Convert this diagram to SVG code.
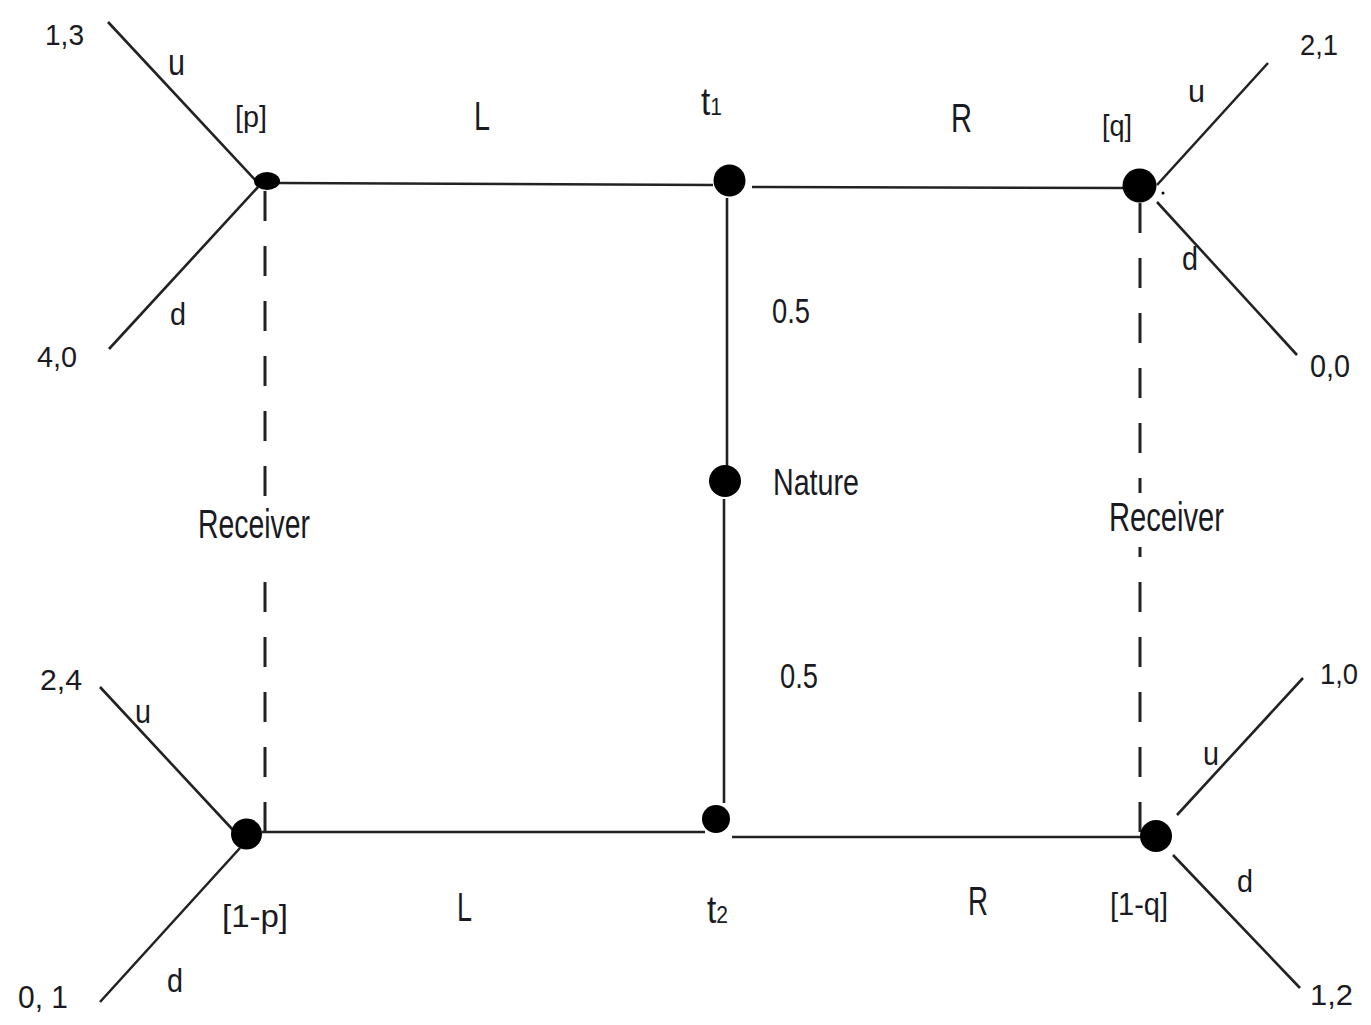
<svg xmlns="http://www.w3.org/2000/svg" width="1371" height="1025" viewBox="0 0 1371 1025">
  <style>
    .edge { stroke: #222; stroke-width: 2.6; fill: none; stroke-linecap: butt; }
    .info { stroke: #222; stroke-width: 3; fill: none; stroke-dasharray: 30 25; }
    .dot { fill: #000; }
    text { font-family: "Liberation Sans", Arial, sans-serif; fill: #1a1a22; }
  </style>

  <!-- game tree edges -->
  <g id="connectors">
    <!-- sender moves -->
    <line class="edge" x1="278" y1="183" x2="713" y2="185"/>
    <line class="edge" x1="752" y1="187" x2="1125" y2="188"/>
    <line class="edge" x1="262" y1="832" x2="705" y2="832"/>
    <line class="edge" x1="732" y1="837" x2="1142" y2="837"/>
    <!-- nature moves -->
    <line class="edge" x1="727" y1="198" x2="727" y2="467"/>
    <line class="edge" x1="724" y1="499" x2="724" y2="803"/>
    <!-- receiver moves -->
    <line class="edge" x1="108" y1="22" x2="258" y2="183"/>
    <line class="edge" x1="109" y1="349" x2="258" y2="187"/>
    <line class="edge" x1="1157" y1="185" x2="1268" y2="63"/>
    <line class="edge" x1="1157" y1="202" x2="1297" y2="355"/>
    <line class="edge" x1="100" y1="687" x2="233" y2="830"/>
    <line class="edge" x1="100" y1="1002" x2="240" y2="848"/>
    <line class="edge" x1="1177" y1="815" x2="1303" y2="678"/>
    <line class="edge" x1="1173" y1="855" x2="1300" y2="988"/>
    <circle class="dot" cx="1163" cy="193" r="1.5"/>
    <!-- information sets, broken around their labels -->
    <line class="info" x1="265" y1="191" x2="265" y2="496"/>
    <line class="info" x1="265" y1="832" x2="265" y2="558"/>
    <line class="info" x1="1140" y1="203" x2="1140" y2="493"/>
    <line class="info" x1="1140" y1="832" x2="1140" y2="547"/>

    <!-- action labels -->
    <text x="474" y="130" font-size="40" textLength="16" lengthAdjust="spacingAndGlyphs">L</text>
    <text x="951" y="132" font-size="40" textLength="21" lengthAdjust="spacingAndGlyphs">R</text>
    <text x="457" y="921" font-size="40" textLength="15" lengthAdjust="spacingAndGlyphs">L</text>
    <text x="968" y="915" font-size="40" textLength="20" lengthAdjust="spacingAndGlyphs">R</text>
    <text x="772" y="323" font-size="35" textLength="38" lengthAdjust="spacingAndGlyphs">0.5</text>
    <text x="780" y="688" font-size="35" textLength="38" lengthAdjust="spacingAndGlyphs">0.5</text>
    <text x="168" y="75" font-size="36" textLength="17" lengthAdjust="spacingAndGlyphs">u</text>
    <text x="170" y="325" font-size="32" textLength="16" lengthAdjust="spacingAndGlyphs">d</text>
    <text x="1188" y="102" font-size="32" textLength="17" lengthAdjust="spacingAndGlyphs">u</text>
    <text x="1182" y="270" font-size="34" textLength="16" lengthAdjust="spacingAndGlyphs">d</text>
    <text x="135" y="723" font-size="34" textLength="16" lengthAdjust="spacingAndGlyphs">u</text>
    <text x="167" y="992" font-size="34" textLength="16" lengthAdjust="spacingAndGlyphs">d</text>
    <text x="1203" y="765" font-size="33" textLength="16" lengthAdjust="spacingAndGlyphs">u</text>
    <text x="1237" y="892" font-size="32" textLength="16" lengthAdjust="spacingAndGlyphs">d</text>
  </g>

  <!-- nature -->
  <g id="nature">
    <circle class="dot" cx="725" cy="481" r="16"/>
    <text x="773" y="495" font-size="37" textLength="86" lengthAdjust="spacingAndGlyphs">Nature</text>
  </g>

  <!-- sender types -->
  <g id="sender-t1">
    <circle class="dot" cx="729.5" cy="180.5" r="16"/>
    <text x="701" y="115" font-size="38" textLength="21" lengthAdjust="spacingAndGlyphs">t<tspan font-size="24">1</tspan></text>
  </g>
  <g id="sender-t2">
    <circle class="dot" cx="716" cy="819" r="14"/>
    <text x="707" y="923" font-size="38" textLength="21" lengthAdjust="spacingAndGlyphs">t<tspan font-size="24">2</tspan></text>
  </g>

  <!-- receiver decision nodes -->
  <g id="receiver-left-top">
    <ellipse class="dot" cx="267" cy="181" rx="13" ry="9"/>
    <text x="235" y="127" font-size="30" textLength="32" lengthAdjust="spacingAndGlyphs">[p]</text>
  </g>
  <g id="receiver-left-bottom">
    <circle class="dot" cx="246.5" cy="834" r="15.5"/>
    <text x="222" y="927" font-size="31" textLength="66" lengthAdjust="spacingAndGlyphs">[1-p]</text>
  </g>
  <g id="receiver-right-top">
    <circle class="dot" cx="1139.5" cy="185.5" r="17"/>
    <text x="1102" y="136" font-size="30" textLength="30" lengthAdjust="spacingAndGlyphs">[q]</text>
  </g>
  <g id="receiver-right-bottom">
    <circle class="dot" cx="1156" cy="836" r="16"/>
    <text x="1110" y="915" font-size="31" textLength="58" lengthAdjust="spacingAndGlyphs">[1-q]</text>
  </g>

  <!-- information set labels -->
  <g id="receiver-left">
    <text x="198" y="538" font-size="41" textLength="112" lengthAdjust="spacingAndGlyphs">Receiver</text>
  </g>
  <g id="receiver-right">
    <text x="1109" y="531" font-size="41" textLength="115" lengthAdjust="spacingAndGlyphs">Receiver</text>
  </g>

  <!-- payoffs -->
  <g id="payoff-1-3"><text x="45" y="45" font-size="29" textLength="39" lengthAdjust="spacingAndGlyphs">1,3</text></g>
  <g id="payoff-4-0"><text x="37" y="367" font-size="29" textLength="40" lengthAdjust="spacingAndGlyphs">4,0</text></g>
  <g id="payoff-2-1"><text x="1300" y="55" font-size="29" textLength="38" lengthAdjust="spacingAndGlyphs">2,1</text></g>
  <g id="payoff-0-0"><text x="1310" y="377" font-size="32" textLength="40" lengthAdjust="spacingAndGlyphs">0,0</text></g>
  <g id="payoff-2-4"><text x="40" y="690" font-size="29" textLength="42" lengthAdjust="spacingAndGlyphs">2,4</text></g>
  <g id="payoff-0-1"><text x="18" y="1008" font-size="31" textLength="50" lengthAdjust="spacingAndGlyphs">0, 1</text></g>
  <g id="payoff-1-0"><text x="1320" y="684" font-size="30" textLength="38" lengthAdjust="spacingAndGlyphs">1,0</text></g>
  <g id="payoff-1-2"><text x="1310" y="1005" font-size="30" textLength="43" lengthAdjust="spacingAndGlyphs">1,2</text></g>
</svg>
